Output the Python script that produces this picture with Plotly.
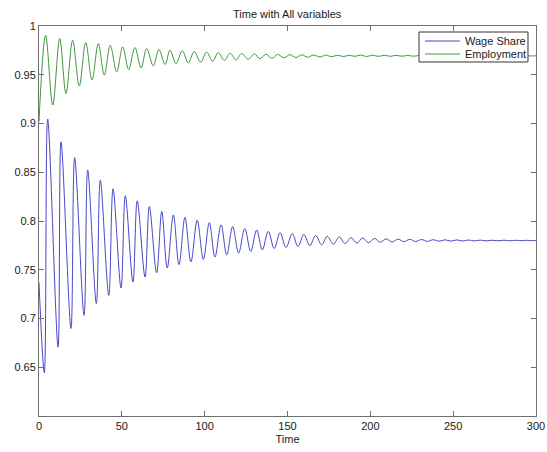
import plotly.graph_objects as go

# Wage share: initial value followed by successive turning points (trough, peak, ...)
wage_time = [
    0.0, 3.2, 5.25, 11.5, 13.3, 19.3, 21.5, 27.2, 29.4, 34.6, 37.0, 42.1, 44.7,
    49.5, 52.1, 56.7, 59.3, 64.0, 66.6, 71.0, 74.1, 77.4, 81.1, 84.5, 88.1,
    91.7, 95.5, 99.2, 102.8, 106.2, 109.9, 113.3, 116.9, 120.5, 124.2, 127.8,
    131.4, 134.8, 138.4, 142.0, 145.5, 149.1, 152.9, 156.3, 159.9, 163.5,
    167.0, 170.6, 174.0, 177.6, 181.3, 184.7, 188.3, 191.8, 195.4, 198.9,
    202.5, 206.0, 209.6, 213.1, 216.7, 220.2, 223.8, 227.3, 230.9, 234.4,
    238.0, 241.5, 245.1, 248.6, 252.2, 255.7, 259.3, 262.8, 266.4, 269.9,
    273.5, 277.0, 280.6, 284.1, 287.7, 291.2, 294.8, 298.3, 300.0,
]
wage_share = [
    0.737, 0.6444, 0.9046, 0.6706, 0.8813, 0.6897, 0.8650, 0.7033, 0.8524,
    0.7153, 0.8418, 0.7238, 0.8330, 0.7313, 0.8258, 0.7375, 0.8207, 0.7426,
    0.8148, 0.7470, 0.8097, 0.7518, 0.8063, 0.7552, 0.8036, 0.7580, 0.8008,
    0.7606, 0.7983, 0.7630, 0.7961, 0.7652, 0.7942, 0.7672, 0.7924, 0.7689,
    0.7908, 0.7704, 0.7894, 0.7717, 0.7881, 0.7729, 0.7870, 0.7739, 0.7860,
    0.7748, 0.7851, 0.7756, 0.7843, 0.7763, 0.7836, 0.7769, 0.7830, 0.7774,
    0.7825, 0.7778, 0.7821, 0.7782, 0.7817, 0.7785, 0.7814, 0.7788, 0.7812,
    0.7790, 0.7810, 0.7791, 0.7808, 0.7793, 0.7807, 0.7794, 0.7806, 0.7795,
    0.7805, 0.7796, 0.7804, 0.7796, 0.7803, 0.7797, 0.7803, 0.7797, 0.7802,
    0.7798, 0.7802, 0.7798, 0.7800,
]

# Employment: initial value followed by successive turning points (peak, trough, ...)
employment_time = [
    0.0, 4.0, 8.3, 12.5, 16.3, 20.3, 24.3, 28.2, 32.0, 35.8, 39.4, 43.0, 46.9,
    50.5, 54.1, 57.9, 61.6, 65.0, 69.0, 72.4, 76.1, 79.1, 82.7, 86.5, 90.1,
    93.7, 97.6, 101.2, 104.8, 108.2, 111.9, 115.3, 118.9, 122.3, 126.3, 130.0,
    133.4, 137.0, 140.6, 144.1, 147.9, 151.5, 155.1, 158.6, 162.2, 165.6,
    169.6, 173.1, 176.7, 180.1, 183.7, 187.1, 190.7, 194.2, 197.8, 201.3,
    204.9, 208.4, 212.0, 215.5, 219.1, 222.6, 226.2, 229.7, 233.3, 236.8,
    240.4, 243.9, 247.5, 251.0, 254.6, 258.1, 261.7, 265.2, 268.8, 272.3,
    275.9, 279.4, 283.0, 286.5, 290.1, 293.6, 297.2, 300.0,
]
employment = [
    0.902, 0.9905, 0.9189, 0.9871, 0.9308, 0.9854, 0.9386, 0.9830, 0.9445,
    0.9820, 0.9496, 0.9803, 0.9529, 0.9786, 0.9554, 0.9779, 0.9570, 0.9769,
    0.9591, 0.9759, 0.9605, 0.9752, 0.9614, 0.9745, 0.9622, 0.9738, 0.9630,
    0.9732, 0.9638, 0.9727, 0.9646, 0.9722, 0.9652, 0.9718, 0.9658, 0.9714,
    0.9664, 0.9711, 0.9669, 0.9708, 0.9673, 0.9706, 0.9677, 0.9704, 0.9680,
    0.9702, 0.9683, 0.9701, 0.9685, 0.9700, 0.9687, 0.9699, 0.9689, 0.9702,
    0.9687, 0.9701, 0.9688, 0.9700, 0.9689, 0.9699, 0.9690, 0.9698, 0.9690,
    0.9698, 0.9691, 0.9697, 0.9691, 0.9697, 0.9692, 0.9696, 0.9692, 0.9696,
    0.9692, 0.9696, 0.9693, 0.9695, 0.9693, 0.9695, 0.9693, 0.9695, 0.9693,
    0.9695, 0.9693, 0.9694,
]

series_names = ["Wage Share", "Employment"]
series_colors = ["#4848c8", "#3f9a3f"]

x_ticks = [0, 50, 100, 150, 200, 250, 300]
y_ticks = [0.65, 0.7, 0.75, 0.8, 0.85, 0.9, 0.95, 1.0]
y_tick_text = ["0.65", "0.7", "0.75", "0.8", "0.85", "0.9", "0.95", "1"]

FONT = "Liberation Sans, Arial, Helvetica, sans-serif"
AXIS_COLOR = "#6f6f6f"
TEXT_COLOR = "#1a1a1a"

fig = go.Figure()
for t, v, name, color in zip(
    [wage_time, employment_time], [wage_share, employment], series_names, series_colors
):
    fig.add_trace(go.Scatter(
        x=t, y=v, name=name, mode="lines", showlegend=False,
        line=dict(color=color, width=1, shape="spline", smoothing=1.0),
    ))

axis_common = dict(
    showline=True, linecolor=AXIS_COLOR, linewidth=1, mirror="ticks",
    ticks="inside", ticklen=5, tickcolor=AXIS_COLOR, tickwidth=1,
    showgrid=False, zeroline=False, automargin=False,
    tickfont=dict(family=FONT, size=11, color=TEXT_COLOR),
)

fig.update_xaxes(
    range=[0, 300], tickvals=x_ticks,
    title=dict(text="Time", font=dict(family=FONT, size=11, color=TEXT_COLOR), standoff=4),
    **axis_common,
)
fig.update_yaxes(
    range=[0.6, 1.0], tickvals=y_ticks, ticktext=y_tick_text,
    **axis_common,
)

# Boxed legend in the upper-right corner of the axes (paper coordinates)
box_x0, box_x1, box_y0, box_y1 = 0.7646, 0.9839, 0.9077, 0.9846
sample_x0, sample_x1, label_x = 0.7767, 0.8471, 0.8531
row_y = [0.9615, 0.9282]

shapes = [dict(
    type="rect", xref="paper", yref="paper",
    x0=box_x0, x1=box_x1, y0=box_y0, y1=box_y1,
    line=dict(color="#333333", width=1), fillcolor="white", layer="above",
)]
annotations = []
for name, color, y in zip(series_names, series_colors, row_y):
    shapes.append(dict(
        type="line", xref="paper", yref="paper",
        x0=sample_x0, x1=sample_x1, y0=y, y1=y,
        line=dict(color=color, width=1), layer="above",
    ))
    annotations.append(dict(
        text=name, xref="paper", yref="paper", x=label_x, y=y,
        xanchor="left", yanchor="middle", showarrow=False,
        font=dict(family=FONT, size=11, color=TEXT_COLOR),
    ))

fig.update_layout(
    width=547, height=452,
    margin=dict(l=39, r=11, t=26, b=36),
    paper_bgcolor="white", plot_bgcolor="white",
    font=dict(family=FONT, size=11, color=TEXT_COLOR),
    title=dict(
        text="Time with All variables", x=0.525, xanchor="center",
        y=1 - 14 / 452, yanchor="middle", yref="container",
        font=dict(family=FONT, size=11, color=TEXT_COLOR),
    ),
    shapes=shapes, annotations=annotations,
)

fig.write_html("out.html")
